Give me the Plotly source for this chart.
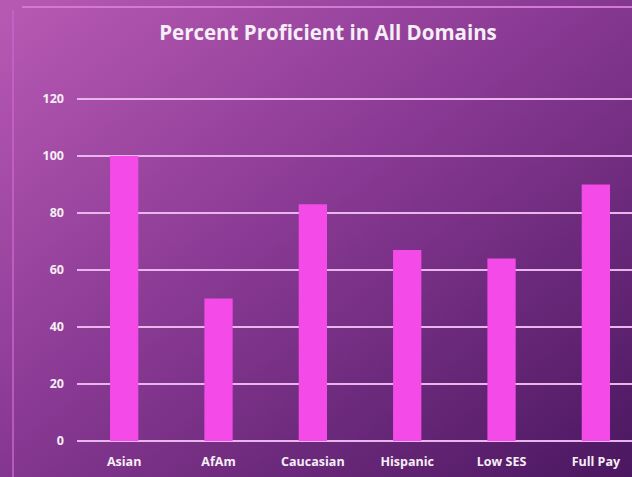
import base64
import plotly.graph_objects as go

categories = ["Asian", "AfAm", "Caucasian", "Hispanic", "Low SES", "Full Pay"]
values = [100, 50, 83, 67, 64, 90]
y_ticks = [0, 20, 40, 60, 80, 100, 120]

W, H = 632, 477
L, T, B = 77, 96, 36
PW, PH = W - L, H - T - B

svg = f'''<svg xmlns="http://www.w3.org/2000/svg" width="{W}" height="{H}" viewBox="0 0 {W} {H}" preserveAspectRatio="none">
<defs><linearGradient id="g" x1="0" y1="0" x2="1" y2="1">
<stop offset="0" stop-color="#b85ab4"/>
<stop offset="0.45" stop-color="#8a3a94"/>
<stop offset="1" stop-color="#4a1760"/>
</linearGradient></defs>
<rect width="{W}" height="{H}" fill="url(#g)"/>
</svg>'''
src = "data:image/svg+xml;base64," + base64.b64encode(svg.encode()).decode()

fig = go.Figure()
fig.add_trace(go.Bar(
    x=categories, y=values,
    marker=dict(color="#f34ae8", line=dict(width=0)),
    width=0.30,
    hoverinfo="skip",
))

tickfont = dict(family="Open Sans", size=12.5, color="#f6eef6", weight="bold")

fig.update_layout(
    width=W, height=H,
    margin=dict(l=L, r=0, t=T, b=B, autoexpand=False),
    paper_bgcolor="#8a3a94",
    plot_bgcolor="rgba(0,0,0,0)",
    images=[dict(source=src, xref="paper", yref="paper", x=-L/PW, y=1+T/PH,
                 sizex=W/PW, sizey=H/PH, sizing="stretch", layer="below",
                 xanchor="left", yanchor="top")],
    title=dict(text="Percent Proficient in All Domains", x=328/W, xref="container",
               xanchor="center",
               y=1-33/H, yref="container", yanchor="middle",
               font=dict(family="Open Sans", size=20.5, color="#f6eef6", weight="bold")),
    showlegend=False,
    xaxis=dict(range=[-0.5, 5.383], showgrid=False, zeroline=False, showline=False,
               tickfont=tickfont, ticks="", ticklabelstandoff=11, fixedrange=True),
    yaxis=dict(range=[0, 121], tickvals=y_ticks, showgrid=True,
               gridcolor="#eab4ec", gridwidth=2, zeroline=True,
               zerolinecolor="#eab4ec", zerolinewidth=2, showline=False,
               tickfont=tickfont, ticks="", ticklabelstandoff=12, fixedrange=True),
    shapes=[
        dict(type="line", xref="paper", yref="paper", x0=-55/PW, x1=1,
             y0=1+(T-7)/PH, y1=1+(T-7)/PH, line=dict(color="#d27ad2", width=2), layer="above"),
        dict(type="line", xref="paper", yref="paper", x0=-(L-13)/PW, x1=-(L-13)/PW,
             y0=1+(T-10)/PH, y1=-B/PH, line=dict(color="#c866c8", width=1.5), layer="above"),
    ],
)

fig.write_html("out.html", config={"displayModeBar": False},
               post_script="document.body.style.margin='0';document.body.style.overflow='hidden';")
